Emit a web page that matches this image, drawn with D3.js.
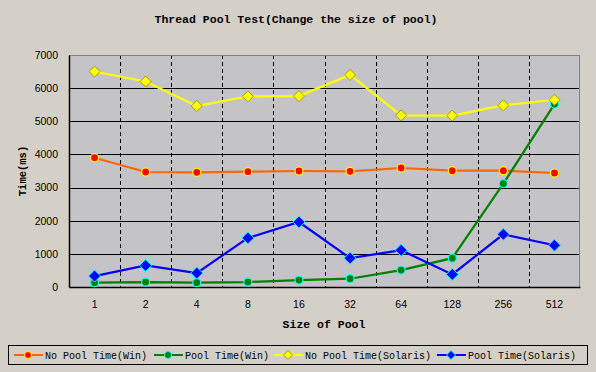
<!DOCTYPE html>
<html>
<head>
<meta charset="utf-8">
<script src="https://cdn.jsdelivr.net/npm/d3@7"></script>
<style>
  body { margin: 0; background: #d4d0c8; }
  svg { display: block; }
</style>
</head>
<body>
<script>
// Chart data
var sizes = ["1", "2", "4", "8", "16", "32", "64", "128", "256", "512"];
var noPoolWin = [3900, 3470, 3460, 3480, 3500, 3490, 3590, 3510, 3510, 3440];
var poolWin = [130, 150, 130, 150, 210, 250, 510, 870, 3120, 5520];
var noPoolSolaris = [6500, 6200, 5460, 5750, 5760, 6400, 5180, 5170, 5480, 5650];
var poolSolaris = [330, 650, 420, 1480, 1960, 870, 1110, 380, 1590, 1260];
var yTicks = [0, 1000, 2000, 3000, 4000, 5000, 6000, 7000];

var series = [
  {name: "No Pool Time(Win)", values: noPoolWin, line: "#ff6600", fill: "#ff0000", stroke: "#ffff00", shape: "circle"},
  {name: "Pool Time(Win)", values: poolWin, line: "#008000", fill: "#008000", stroke: "#00ffff", shape: "circle"},
  {name: "No Pool Time(Solaris)", values: noPoolSolaris, line: "#ffff00", fill: "#ffff00", stroke: "#a0a000", shape: "diamond"},
  {name: "Pool Time(Solaris)", values: poolSolaris, line: "#0000ff", fill: "#0000ff", stroke: "#00ffff", shape: "diamond"}
];

var width = 596, height = 372;
var margin = {top: 55, right: 16, bottom: 85, left: 69};
var plotW = width - margin.left - margin.right,
    plotH = height - margin.top - margin.bottom;

var svg = d3.select("body").append("svg")
    .attr("width", width)
    .attr("height", height);

// Title
svg.append("text")
    .attr("x", 296)
    .attr("y", 23)
    .attr("text-anchor", "middle")
    .style("font-family", "'Liberation Mono', monospace")
    .style("font-weight", "bold")
    .style("font-size", "11.5px")
    .text("Thread Pool Test(Change the size of pool)");

var g = svg.append("g")
    .attr("transform", "translate(" + margin.left + "," + margin.top + ")");

var x = d3.scaleBand().domain(sizes).range([0, plotW]);
var y = d3.scaleLinear().domain([0, 7000]).range([plotH, 0]);

// Plot background
g.append("rect")
    .attr("width", plotW)
    .attr("height", plotH)
    .attr("fill", "#c4c3c7");

// Horizontal grid lines
g.selectAll("line.hgrid")
    .data(yTicks.slice(1, -1))
    .enter().append("line")
    .attr("class", "hgrid")
    .attr("x1", 0).attr("x2", plotW)
    .attr("y1", function(d) { return Math.round(y(d)) + 0.5; })
    .attr("y2", function(d) { return Math.round(y(d)) + 0.5; })
    .attr("stroke", "#000")
    .attr("stroke-width", 1);

// Dashed vertical lines between categories
g.selectAll("line.vgrid")
    .data(sizes.slice(1))
    .enter().append("line")
    .attr("class", "vgrid")
    .attr("x1", function(d) { return Math.round(x(d)) + 0.5; })
    .attr("x2", function(d) { return Math.round(x(d)) + 0.5; })
    .attr("y1", 0).attr("y2", plotH)
    .attr("stroke", "#000")
    .attr("stroke-dasharray", "4,3");

// Frame: gray top & right, black left & bottom
g.append("line").attr("x1", 0).attr("x2", plotW).attr("y1", 0.5).attr("y2", 0.5).attr("stroke", "#808080");
g.append("line").attr("x1", plotW - 0.5).attr("x2", plotW - 0.5).attr("y1", 0).attr("y2", plotH).attr("stroke", "#808080");

// Y axis
var yAxis = g.append("g")
    .call(d3.axisLeft(y).tickValues(yTicks).tickSize(0).tickPadding(11).tickFormat(d3.format("d")));
yAxis.select(".domain").attr("stroke", "#000").attr("stroke-width", 1.5);
yAxis.selectAll("text")
    .style("font-family", "'Liberation Sans', Arial, sans-serif")
    .style("font-size", "10.5px")
    .attr("fill", "#000");

// X axis
var xAxis = g.append("g")
    .attr("transform", "translate(0," + plotH + ")")
    .call(d3.axisBottom(x).tickSize(0).tickPadding(14));
xAxis.select(".domain").attr("stroke", "#000").attr("stroke-width", 1.5);
xAxis.selectAll("text")
    .style("font-family", "'Liberation Sans', Arial, sans-serif")
    .style("font-size", "10.5px")
    .attr("fill", "#000");

// Axis titles
svg.append("text")
    .attr("transform", "translate(26,171) rotate(-90)")
    .attr("text-anchor", "middle")
    .style("font-family", "'Liberation Mono', monospace")
    .style("font-weight", "bold")
    .style("font-size", "10.5px")
    .text("Time(ms)");

svg.append("text")
    .attr("x", 324)
    .attr("y", 328)
    .attr("text-anchor", "middle")
    .style("font-family", "'Liberation Mono', monospace")
    .style("font-weight", "bold")
    .style("font-size", "11.5px")
    .text("Size of Pool");

function cx(d, i) { return x(sizes[i]) + x.bandwidth() / 2; }

var line = d3.line()
    .x(function(d, i) { return cx(d, i); })
    .y(function(d) { return y(d); });

function drawMarker(sel, s, px, py) {
  if (s.shape === "circle") {
    sel.append("circle")
      .attr("cx", px).attr("cy", py).attr("r", 4)
      .attr("fill", s.fill).attr("stroke", s.stroke).attr("stroke-width", 1.2);
  } else {
    var r = s.line === "#0000ff" ? 6 : 5.5;
    sel.append("path")
      .attr("d", "M" + px + "," + (py - r) + "L" + (px + r) + "," + py + "L" + px + "," + (py + r) + "L" + (px - r) + "," + py + "Z")
      .attr("fill", s.fill).attr("stroke", s.stroke).attr("stroke-width", 1);
  }
}

series.forEach(function(s) {
  var sg = g.append("g");
  sg.append("path")
    .datum(s.values)
    .attr("d", line)
    .attr("fill", "none")
    .attr("stroke", s.line)
    .attr("stroke-width", 2.2);
  s.values.forEach(function(v, i) {
    drawMarker(sg, s, cx(v, i), y(v));
  });
});

// Legend
var legend = svg.append("g");
legend.append("rect")
    .attr("x", 8.5).attr("y", 345.5)
    .attr("width", 579).attr("height", 19)
    .attr("fill", "none")
    .attr("stroke", "#000");

var legendX = [14, 154, 274, 437];
series.forEach(function(s, i) {
  var lg = legend.append("g");
  var lx = legendX[i], ly = 355;
  lg.append("line")
    .attr("x1", lx).attr("x2", lx + 29)
    .attr("y1", ly).attr("y2", ly)
    .attr("stroke", s.line).attr("stroke-width", 2);
  if (s.shape === "circle") {
    lg.append("circle").attr("cx", lx + 14).attr("cy", ly).attr("r", 3.5)
      .attr("fill", s.fill).attr("stroke", s.stroke).attr("stroke-width", 1);
  } else {
    var r = 4.5, px = lx + 14;
    lg.append("path")
      .attr("d", "M" + px + "," + (ly - r) + "L" + (px + r) + "," + ly + "L" + px + "," + (ly + r) + "L" + (px - r) + "," + ly + "Z")
      .attr("fill", s.fill).attr("stroke", s.stroke).attr("stroke-width", 1);
  }
  lg.append("text")
    .attr("x", lx + 31).attr("y", ly + 4)
    .style("font-family", "'Liberation Mono', monospace")
    .style("font-size", "10px")
    .text(s.name);
});
</script>
</body>
</html>
